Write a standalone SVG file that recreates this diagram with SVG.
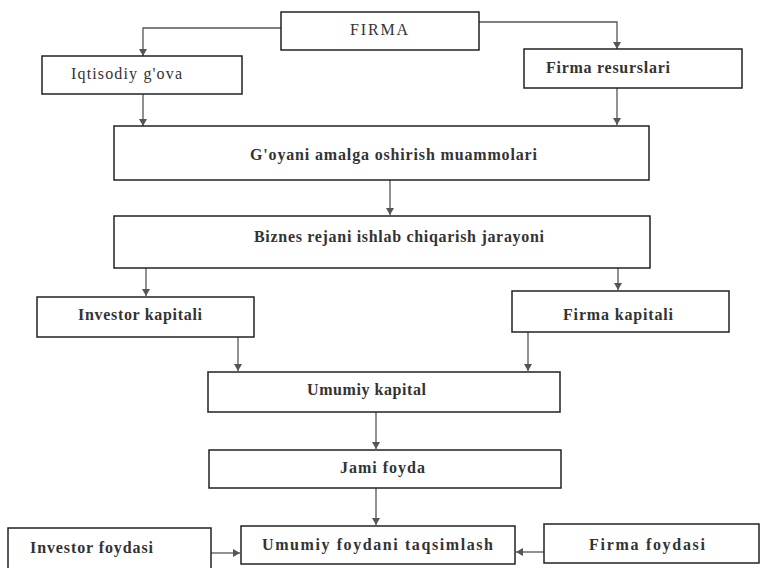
<svg xmlns="http://www.w3.org/2000/svg" width="760" height="568" viewBox="0 0 760 568">
<style>
.box{fill:#fff;stroke:#222;stroke-width:1.5}
.t{font-family:"Liberation Serif","Times New Roman",serif;font-size:16px;font-weight:bold;fill:#333}
.r{font-weight:normal}
.c{fill:none;stroke:#555;stroke-width:1.3}
</style>
<defs>
<marker id="ah" markerUnits="userSpaceOnUse" markerWidth="9" markerHeight="9" refX="7" refY="4.5" orient="auto">
<path d="M0,0.5 L7,4.5 L0,8.5 Z" fill="#555"/>
</marker>
</defs>
<rect width="760" height="568" fill="#fff"/>
<g id="connectors">
<path class="c" d="M281,28 H143 V56" marker-end="url(#ah)"/>
<path class="c" d="M479,22 H617 V49" marker-end="url(#ah)"/>
<path class="c" d="M143,94 V126" marker-end="url(#ah)"/>
<path class="c" d="M617,88 V125" marker-end="url(#ah)"/>
<path class="c" d="M390,180 V215" marker-end="url(#ah)"/>
<path class="c" d="M146,268 V296" marker-end="url(#ah)"/>
<path class="c" d="M618,268 V290" marker-end="url(#ah)"/>
<path class="c" d="M238,337 V371" marker-end="url(#ah)"/>
<path class="c" d="M528,332 V371" marker-end="url(#ah)"/>
<path class="c" d="M376,412 V449" marker-end="url(#ah)"/>
<path class="c" d="M376,488 V525" marker-end="url(#ah)"/>
<path class="c" d="M211,553 H240" marker-end="url(#ah)"/>
<path class="c" d="M544,552 H516" marker-end="url(#ah)"/>
</g>
<g id="firma"><rect class="box" x="281" y="12" width="198" height="38"/><text class="t r" x="350" y="35" textLength="58" lengthAdjust="spacing">FIRMA</text></g>
<g id="iqtisodiy"><rect class="box" x="42" y="56" width="200" height="38"/><text class="t r" x="71" y="79" textLength="111" lengthAdjust="spacing">Iqtisodiy g'ova</text></g>
<g id="resurslari"><rect class="box" x="524" y="49" width="218" height="39"/><text class="t" x="546" y="73" textLength="124" lengthAdjust="spacing">Firma resurslari</text></g>
<g id="goyani"><rect class="box" x="114" y="126" width="535" height="54"/><text class="t" x="250" y="160" textLength="287" lengthAdjust="spacing">G'oyani amalga oshirish muammolari</text></g>
<g id="biznes"><rect class="box" x="114" y="216" width="536" height="52"/><text class="t" x="254" y="242" textLength="290" lengthAdjust="spacing">Biznes rejani ishlab chiqarish jarayoni</text></g>
<g id="investor-kapitali"><rect class="box" x="37" y="297" width="217" height="40"/><text class="t" x="78" y="320" textLength="124" lengthAdjust="spacing">Investor kapitali</text></g>
<g id="firma-kapitali"><rect class="box" x="512" y="291" width="217" height="41"/><text class="t" x="563" y="320" textLength="110" lengthAdjust="spacing">Firma kapitali</text></g>
<g id="umumiy-kapital"><rect class="box" x="208" y="372" width="352" height="40"/><text class="t" x="307" y="395" textLength="119" lengthAdjust="spacing">Umumiy kapital</text></g>
<g id="jami-foyda"><rect class="box" x="209" y="450" width="352" height="38"/><text class="t" x="340" y="473" textLength="85" lengthAdjust="spacing">Jami foyda</text></g>
<g id="taqsimlash"><rect class="box" x="241" y="526" width="274" height="38"/><text class="t" x="262" y="550" textLength="231" lengthAdjust="spacing">Umumiy foydani taqsimlash</text></g>
<g id="investor-foydasi"><rect class="box" x="8" y="528" width="203" height="42"/><text class="t" x="30" y="553" textLength="123" lengthAdjust="spacing">Investor foydasi</text></g>
<g id="firma-foydasi"><rect class="box" x="544" y="524" width="215" height="39"/><text class="t" x="589" y="550" textLength="116" lengthAdjust="spacing">Firma foydasi</text></g>
</svg>
